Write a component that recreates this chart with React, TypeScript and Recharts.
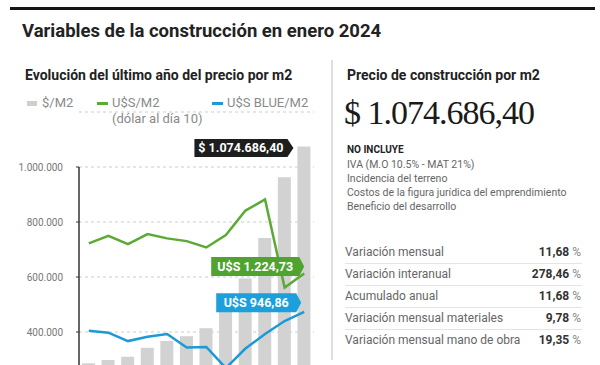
import React from "react";
import {
  ComposedChart,
  Bar,
  Line,
  XAxis,
  YAxis,
  CartesianGrid,
  LabelList,
  ReferenceLine,
} from "recharts";

// ---- data ----
const months = ["Feb", "Mar", "Abr", "May", "Jun", "Jul", "Ago", "Sep", "Oct", "Nov", "Dic", "Ene"];
const pesosM2 = [286000, 298000, 310000, 343000, 367000, 385000, 414000, 480000, 595000, 742000, 962289, 1074686.4];
const usdM2 = [1445, 1500, 1439, 1512, 1481, 1461, 1415, 1505, 1683, 1764, 1123, 1224.73];
const usdBlueM2 = [809, 795, 734, 766, 785, 687, 691, 538, 680, 785, 880, 946.86];
const yTicks = [400000, 600000, 800000, 1000000];

const pesoLabel = "$ 1.074.686,40";
const usdLabel = "U$S 1.224,73";
const blueLabel = "U$S 946,86";

const noIncluye = [
  "IVA (M.O 10.5% - MAT 21%)",
  "Incidencia del terreno",
  "Costos de la figura jurídica del emprendimiento",
  "Beneficio del desarrollo",
];
const tableLabels = [
  "Variación mensual",
  "Variación interanual",
  "Acumulado anual",
  "Variación mensual materiales",
  "Variación mensual mano de obra",
];
const tableValues = ["11,68", "278,46", "11,68", "9,78", "19,35"];

const data = months.map((m, i) => ({
  month: m,
  pesos: pesosM2[i],
  usd: usdM2[i],
  blue: usdBlueM2[i],
}));

// ---- styles ----
const FONT = "Roboto, 'Liberation Sans', Arial, sans-serif";
const GREEN = "#5aaa35";
const GREEN_LABEL = "#4ea42e";
const BLUE = "#1a9ad6";
const BLUE_LABEL = "#1ba0dc";

const fmt = (v: number) => String(Math.round(v)).replace(/\B(?=(\d{3})+(?!\d))/g, ".");

function T(props: {
  x: number;
  y: number;
  size: number;
  weight?: number;
  color?: string;
  family?: string;
  right?: boolean;
  spacing?: number;
  children: React.ReactNode;
}) {
  const lh = props.size * 1.2;
  const style: React.CSSProperties = {
    position: "absolute",
    top: props.y - lh / 2,
    fontSize: props.size,
    lineHeight: `${lh}px`,
    fontWeight: props.weight ?? 400,
    color: props.color ?? "#222",
    fontFamily: props.family ?? FONT,
    whiteSpace: "nowrap",
    letterSpacing: props.spacing ?? 0,
  };
  if (props.right) style.right = 600 - props.x;
  else style.left = props.x;
  return <div style={style}>{props.children}</div>;
}

function tagShape(tipX: number, cy: number, w: number, h: number, arrow: number, fill: string, text: string) {
  const right = tipX - arrow;
  const left = right - w;
  const top = cy - h / 2;
  const bottom = cy + h / 2;
  const pts = `${left},${top} ${right},${top} ${tipX},${cy} ${right},${bottom} ${left},${bottom}`;
  return (
    <g>
      <polygon points={pts} fill={fill} />
      <text
        x={left + w / 2}
        y={cy}
        textAnchor="middle"
        dominantBaseline="central"
        fill="#fff"
        fontSize={12.5}
        fontWeight={700}
        fontFamily={FONT}
      >
        {text}
      </text>
    </g>
  );
}

const lastIdx = months.length - 1;

const renderPesoLabel = (p: any) => {
  if (p.index !== lastIdx) return null;
  const x = p.x ?? p.viewBox?.x;
  const y = p.y ?? p.viewBox?.y;
  return tagShape(x - 4, y + 1.5, 93, 18, 6, "#1e1e1e", pesoLabel);
};
const renderUsdLabel = (p: any) => {
  if (p.index !== lastIdx) return null;
  const x = p.x ?? p.viewBox?.x;
  const y = p.y ?? p.viewBox?.y;
  return tagShape(x, y - 7, 88, 19, 5, GREEN_LABEL, usdLabel);
};
const renderBlueLabel = (p: any) => {
  if (p.index !== lastIdx) return null;
  const x = p.x ?? p.viewBox?.x;
  const y = p.y ?? p.viewBox?.y;
  return tagShape(x - 3, y - 9, 80, 19, 5, BLUE_LABEL, blueLabel);
};

export default function App() {
  return (
    <div
      style={{
        position: "fixed",
        left: 0,
        top: 0,
        width: 600,
        height: 365,
        overflow: "hidden",
        background: "#fff",
        fontFamily: FONT,
      }}
    >
      {/* top rule */}
      <div style={{ position: "absolute", left: 10, top: 7, width: 585, height: 3, background: "#151515" }} />
      <T x={22} y={31} size={18.5} weight={700} color="#222">
        Variables de la construcción en enero 2024
      </T>

      {/* left panel */}
      <T x={25} y={75} size={14} weight={700} color="#222">
        Evolución del último año del precio por m2
      </T>
      <div style={{ position: "absolute", left: 27, top: 100.5, width: 10, height: 5, background: "#cfcfcf" }} />
      <T x={42} y={103} size={13} color="#8a8a8a">$/M2</T>
      <div style={{ position: "absolute", left: 97, top: 102, width: 11, height: 2.5, background: GREEN }} />
      <T x={112} y={103} size={13} color="#8a8a8a">U$S/M2</T>
      <T x={112} y={119} size={13} color="#8a8a8a">(dólar al día 10)</T>
      <div style={{ position: "absolute", left: 212, top: 102, width: 11, height: 2.5, background: BLUE }} />
      <T x={227} y={103} size={13} color="#8a8a8a">U$S BLUE/M2</T>

      <div style={{ position: "absolute", left: 0, top: 0 }}>
        <ComposedChart
          width={330}
          height={450}
          data={data}
          margin={{ top: 112, right: 16, bottom: 8, left: 0 }}
        >
          <CartesianGrid yAxisId="left" vertical={false} stroke="#cdcdcd" strokeDasharray="3 3" />
          <XAxis dataKey="month" hide />
          <XAxis xAxisId="num" type="number" domain={[0, 1]} hide />
          <YAxis
            yAxisId="left"
            width={79}
            domain={[0, 1200000]}
            ticks={yTicks}
            interval={0}
            tickFormatter={fmt}
            axisLine={false}
            tickLine={{ stroke: "#333" }}
            tickSize={3}
            tickMargin={13}
            tick={{ fill: "#777", fontSize: 10, fontFamily: FONT }}
          />
          <YAxis yAxisId="usd" hide domain={[0, 2400]} />
          <Bar yAxisId="left" dataKey="pesos" fill="#d2d2d2" barSize={13} isAnimationActive={false}>
            <LabelList dataKey="pesos" content={renderPesoLabel} />
          </Bar>
          <ReferenceLine
            xAxisId="num"
            yAxisId="left"
            segment={[
              { x: 0, y: 0 },
              { x: 0, y: 1000000 },
            ]}
            stroke="#333"
            strokeWidth={1.5}
          />
          <Line
            yAxisId="usd"
            dataKey="usd"
            stroke={GREEN}
            strokeWidth={2.5}
            dot={false}
            activeDot={false}
            isAnimationActive={false}
          >
            <LabelList dataKey="usd" content={renderUsdLabel} />
          </Line>
          <Line
            yAxisId="usd"
            dataKey="blue"
            stroke={BLUE}
            strokeWidth={2.5}
            dot={false}
            activeDot={false}
            isAnimationActive={false}
          >
            <LabelList dataKey="blue" content={renderBlueLabel} />
          </Line>
        </ComposedChart>
      </div>

      {/* divider */}
      <div style={{ position: "absolute", left: 331, top: 60, width: 2, height: 300, background: "#dedede" }} />

      {/* right panel */}
      <T x={347} y={75} size={14} weight={700} color="#222">
        Precio de construcción por m2
      </T>
      <div
        style={{
          position: "absolute",
          left: 344,
          top: 93,
          fontSize: 34,
          lineHeight: "40.8px",
          fontFamily: "'Liberation Serif', 'Times New Roman', serif",
          color: "#1a1a1a",
          letterSpacing: -1,
          whiteSpace: "nowrap",
        }}
      >
        {pesoLabel}
      </div>
      <T x={347} y={150} size={10} weight={700} color="#222">NO INCLUYE</T>
      {noIncluye.map((s, i) => (
        <T key={s} x={347} y={165 + i * 14} size={10.5} color="#666">
          {s}
        </T>
      ))}

      {tableLabels.map((s, i) => (
        <React.Fragment key={s}>
          <T x={345} y={252 + i * 22} size={12} color="#666">
            {s}
          </T>
          <T x={581} y={252 + i * 22} size={12} right color="#333">
            <span style={{ fontWeight: 700 }}>{tableValues[i]}</span>
            <span style={{ color: "#888" }}> %</span>
          </T>
          {i < tableLabels.length - 1 ? (
            <div
              style={{
                position: "absolute",
                left: 345,
                top: 262.5 + i * 22,
                width: 237,
                height: 1,
                background: "#e4e4e4",
              }}
            />
          ) : null}
        </React.Fragment>
      ))}
    </div>
  );
}
